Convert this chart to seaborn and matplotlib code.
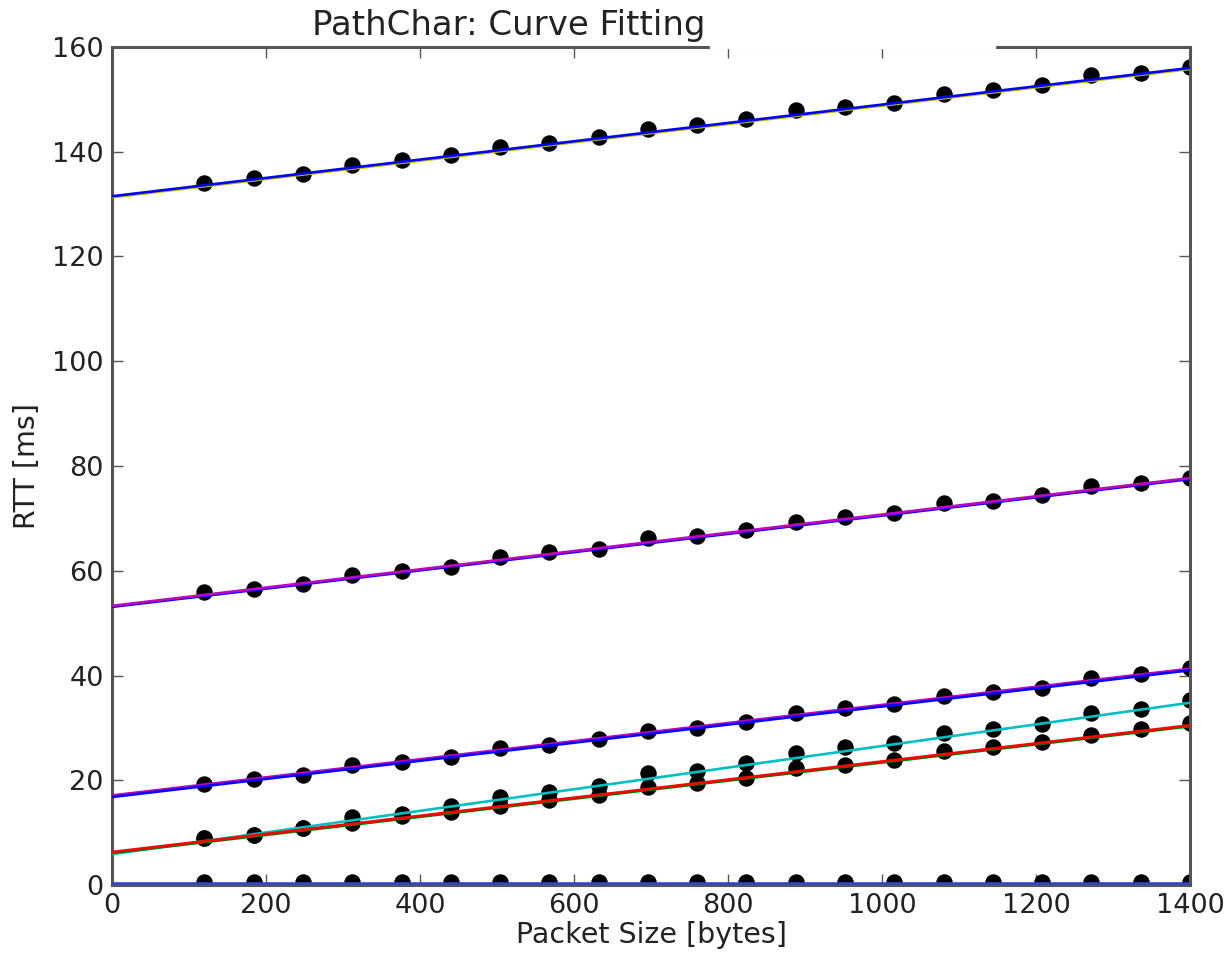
import matplotlib
matplotlib.use("Agg")
import matplotlib.pyplot as plt
import seaborn as sns
import pandas as pd
from matplotlib.patches import Rectangle

# packet sizes probed (bytes)
packet_size = [120, 184, 248, 312, 376, 440, 504, 568, 632, 696, 760,
               824, 888, 952, 1016, 1080, 1144, 1208, 1272, 1336, 1400]

# measured RTT per hop (ms)
rtt_a = [134.0, 135.0, 135.7, 137.5, 138.4, 139.4, 141.0, 141.7, 142.8, 144.3, 145.1,
         146.2, 148.0, 148.6, 149.3, 151.0, 151.8, 152.7, 154.7, 155.1, 156.2]
rtt_b = [56.0, 56.6, 57.5, 59.2, 60.0, 60.8, 62.7, 63.5, 64.1, 66.2, 66.6,
         67.7, 69.4, 70.2, 71.1, 72.9, 73.4, 74.5, 76.2, 76.8, 77.7]
rtt_c = [19.3, 20.2, 21.0, 22.9, 23.4, 24.5, 26.1, 26.7, 27.9, 29.4, 29.9,
         31.2, 32.9, 33.7, 34.6, 36.1, 36.9, 37.7, 39.6, 40.3, 41.4]
rtt_d = [8.9, 9.5, 10.8, 13.0, 13.6, 15.0, 16.8, 17.8, 18.9, 21.3, 21.8,
         23.3, 25.2, 26.3, 27.1, 29.1, 29.7, 30.7, 32.8, 33.6, 35.3]
rtt_e = [8.9, 9.5, 10.8, 11.8, 13.2, 14.0, 15.1, 16.2, 17.2, 18.7, 19.5,
         20.4, 22.3, 22.9, 23.9, 25.6, 26.3, 27.3, 28.6, 29.7, 30.9]
rtt_f = [0.5, 0.5, 0.5, 0.5, 0.5, 0.5, 0.5, 0.5, 0.5, 0.5, 0.5,
         0.5, 0.5, 0.5, 0.5, 0.5, 0.5, 0.5, 0.5, 0.5, 0.5]

# fitted lines, value at 0 and at 1400 bytes (drawn in this order)
fit_x = [0, 1400]
fit_start = [131.3, 131.5, 53.1, 53.3, 17.1, 16.8, 5.9, 6.1, 6.3, 0.3]
fit_end = [155.8, 156.0, 77.5, 77.7, 41.3, 41.0, 34.8, 30.3, 30.5, 0.3]
fit_color = ["y", "b", "b", "m", "m", "b", "c", "g", "r", "#3344cc"]

sns.set_style("ticks")
plt.rcParams["font.family"] = ["DejaVu Sans"]

fig = plt.figure(figsize=(12.32, 9.56), dpi=100)
ax = fig.add_axes([112 / 1232, 1 - 885 / 956, 1078 / 1232, 838 / 956])

puntos = pd.DataFrame({
    "x": packet_size * 6,
    "y": rtt_a + rtt_b + rtt_c + rtt_d + rtt_e + rtt_f,
})
sns.scatterplot(data=puntos, x="x", y="y", color="black", edgecolor="black",
                s=140, linewidth=0, ax=ax, zorder=2)

for y0, y1, c in zip(fit_start, fit_end, fit_color):
    sns.lineplot(x=fit_x, y=[y0, y1], color=c, linewidth=1.9, ax=ax, zorder=3)

ax.set_xlim(0, 1400)
ax.set_ylim(0, 160)
ax.set_xticks([0, 200, 400, 600, 800, 1000, 1200, 1400])
ax.set_yticks([0, 20, 40, 60, 80, 100, 120, 140, 160])
ax.set_xlabel("Packet Size [bytes]", fontsize=20.5, color="#222222", labelpad=1)
ax.set_ylabel("RTT [ms]", fontsize=20.5, color="#222222", labelpad=8)
ax.tick_params(direction="in", top=True, right=True, length=8, width=1,
               color="#555555", labelsize=19.5, labelcolor="#222222", pad=6)
for s in ax.spines.values():
    s.set_linewidth(2.2)
    s.set_color("#555555")

# titulo (parte derecha tapada)
fig.text(312 / 1232, 1 - 35 / 956, "PathChar: Curve Fitting", ha="left",
         va="baseline", fontsize=24.5, color="#222222")
fig.add_artist(Rectangle((710 / 1232, 1 - 48 / 956), 285 / 1232, 48 / 956,
                         transform=fig.transFigure, color="white", zorder=10))

fig.savefig("out.png", dpi=100)
